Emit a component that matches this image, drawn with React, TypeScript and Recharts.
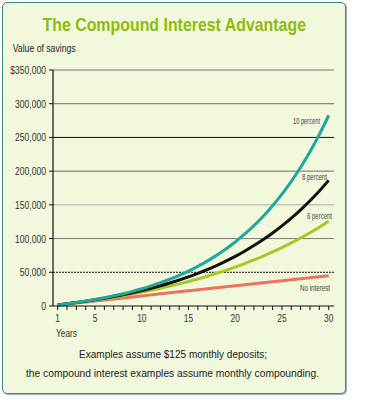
import React from "react";
import { LineChart, Line, XAxis, YAxis, ReferenceLine } from "recharts";

const years = [1,2,3,4,5,6,7,8,9,10,11,12,13,14,15,16,17,18,19,20,21,22,23,24,25,26,27,28,29,30];
const noInterest = [1500,3000,4500,6000,7500,9000,10500,12000,13500,15000,16500,18000,19500,21000,22500,24000,25500,27000,28500,30000,31500,33000,34500,36000,37500,39000,40500,42000,43500,45000];
const sixPercent = [1542,3179,4917,6762,8721,10801,13009,15354,17842,20485,23290,26269,29431,32788,36352,40136,44154,48419,52947,57755,62859,68278,74031,80139,86624,93509,100818,108579,116817,125564];
const eightPercent = [1556,3242,5067,7044,9185,11503,14014,16733,19679,22868,26323,30064,34115,38503,43255,48401,53975,60011,66548,73628,81295,89599,98591,108331,118878,130302,142673,156071,170581,186295];
const tenPercent = [1571,3306,5223,7340,9680,12264,15119,18273,21757,25606,29858,34555,39744,45476,51809,58805,66533,75071,84503,94922,106433,119149,133196,148714,165858,184796,205718,228830,254363,282569];

const yTicks = [0, 50000, 100000, 150000, 200000, 250000, 300000, 350000];
const yTickLabels = ["0", "50,000", "100,000", "150,000", "200,000", "250,000", "300,000", "$350,000"];
const xLabeled = [1, 5, 10, 15, 20, 25, 30];
const seriesLabels = ["10 percent", "8 percent", "6 percent", "No interest"];
const titleText = "The Compound Interest Advantage";
const yAxisTitle = "Value of savings";
const xAxisTitle = "Years";
const noteLines = [
  "Examples assume $125 monthly deposits;",
  "the compound interest examples assume monthly compounding.",
];

const data = years.map((y, i) => ({
  year: y,
  none: noInterest[i],
  six: sixPercent[i],
  eight: eightPercent[i],
  ten: tenPercent[i],
}));

const FONT = '"Liberation Sans", Arial, sans-serif';

const gridStyles: Record<number, { stroke: string; dash?: string }> = {
  50000: { stroke: "#111", dash: "2 1" },
  100000: { stroke: "#7a7a7a" },
  150000: { stroke: "#aaa" },
  200000: { stroke: "#6a6a6a" },
  250000: { stroke: "#111" },
  300000: { stroke: "#6a6a6a" },
  350000: { stroke: "#777" },
};

const XTick = (props: any) => {
  const { x, y, payload } = props;
  if (!xLabeled.includes(payload.value)) return null;
  return (
    <text
      transform={`translate(${x} ${y + 10}) scale(0.76 1)`}
      textAnchor="middle"
      fontFamily={FONT}
      fontSize={11}
      fill="#333"
    >
      {payload.value}
    </text>
  );
};

const YTick = (props: any) => {
  const { x, y, payload } = props;
  const idx = yTicks.indexOf(payload.value);
  return (
    <text
      transform={`translate(${x - 1} ${y + 4}) scale(0.78 1)`}
      textAnchor="end"
      fontFamily={FONT}
      fontSize={11}
      fill="#333"
    >
      {yTickLabels[idx]}
    </text>
  );
};

export default function App() {
  return (
    <div style={{ position: "absolute", left: 0, top: 0, width: 365, height: 400, background: "#fff" }}>
      <div
        style={{
          position: "absolute",
          left: 2,
          top: 2,
          width: 344,
          height: 392,
          boxSizing: "border-box",
          border: "1.5px solid #2f8f8c",
          borderRadius: 5,
          background: "#f2f8dc",
          boxShadow: "1px 1px 1px #9ab",
        }}
      />
      <div style={{ position: "absolute", left: 0, top: 0 }}>
        <LineChart width={365} height={400} data={data} margin={{ top: 70, right: 31, bottom: 74, left: 0 }}>
          {yTicks.filter((v) => v > 0).map((v) => (
            <ReferenceLine
              key={v}
              y={v}
              stroke={gridStyles[v].stroke}
              strokeDasharray={gridStyles[v].dash}
              strokeWidth={1}
            />
          ))}
          <XAxis
            dataKey="year"
            type="number"
            domain={[0.5, 30.57]}
            ticks={years}
            interval={0}
            tick={<XTick />}
            tickSize={4}
            tickLine={{ stroke: "#111" }}
            axisLine={{ stroke: "#111", strokeWidth: 1.2 }}
            height={20}
            allowDataOverflow
          />
          <YAxis
            type="number"
            domain={[0, 350000]}
            ticks={yTicks}
            interval={0}
            tick={<YTick />}
            tickSize={4}
            tickLine={{ stroke: "#111" }}
            axisLine={{ stroke: "#111", strokeWidth: 1.2 }}
            width={53}
          />
          <Line type="monotone" dataKey="none" stroke="#f2705e" strokeWidth={3} dot={false} isAnimationActive={false} />
          <Line type="monotone" dataKey="six" stroke="#a9c825" strokeWidth={3} dot={false} isAnimationActive={false} />
          <Line type="monotone" dataKey="eight" stroke="#111" strokeWidth={3} dot={false} isAnimationActive={false} />
          <Line type="monotone" dataKey="ten" stroke="#1fa89d" strokeWidth={3} dot={false} isAnimationActive={false} />
        </LineChart>
      </div>
      <svg
        width={365}
        height={400}
        style={{ position: "absolute", left: 0, top: 0, pointerEvents: "none" }}
        fontFamily={FONT}
      >
        <text x={42.5} y={31} fontSize={19} fontWeight="bold" fill="#8fbc0a" textLength={263.5} lengthAdjust="spacingAndGlyphs">
          {titleText}
        </text>
        <text x={12.7} y={52} fontSize={10} fill="#222" textLength={63} lengthAdjust="spacingAndGlyphs">
          {yAxisTitle}
        </text>
        <text x={56} y={337} fontSize={10.5} fill="#333" textLength={21} lengthAdjust="spacingAndGlyphs">
          {xAxisTitle}
        </text>
        <text x={293} y={124} fontSize={9} fill="#444" textLength={27} lengthAdjust="spacingAndGlyphs">
          {seriesLabels[0]}
        </text>
        <text x={302} y={180} fontSize={9} fill="#444" textLength={25} lengthAdjust="spacingAndGlyphs">
          {seriesLabels[1]}
        </text>
        <text x={307} y={219} fontSize={9} fill="#444" textLength={25} lengthAdjust="spacingAndGlyphs">
          {seriesLabels[2]}
        </text>
        <text x={300} y={291} fontSize={9} fill="#444" textLength={30} lengthAdjust="spacingAndGlyphs">
          {seriesLabels[3]}
        </text>
        <text x={79} y={357.5} fontSize={11.5} fill="#222" textLength={188} lengthAdjust="spacingAndGlyphs">
          {noteLines[0]}
        </text>
        <text x={26} y={376.5} fontSize={11.5} fill="#222" textLength={293} lengthAdjust="spacingAndGlyphs">
          {noteLines[1]}
        </text>
      </svg>
    </div>
  );
}
